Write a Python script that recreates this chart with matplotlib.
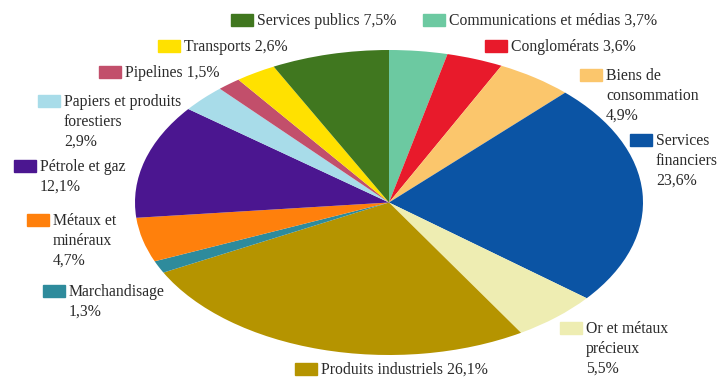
import matplotlib
matplotlib.use("Agg")
import matplotlib.pyplot as plt
from matplotlib.patches import Rectangle

# sectors, clockwise from 12 o'clock
sectors = ["Communications et médias", "Conglomérats", "Biens de\nconsommation",
           "Services\nfinanciers", "Or et métaux\nprécieux", "Produits industriels",
           "Marchandisage", "Métaux et\nminéraux", "Pétrole et gaz",
           "Papiers et produits\nforestiers", "Pipelines", "Transports",
           "Services publics"]
shares = [3.7, 3.6, 4.9, 23.6, 5.5, 26.1, 1.3, 4.7, 12.1, 2.9, 1.5, 2.6, 7.5]
colors = ["#6cc9a1", "#e81a2b", "#fbc66c", "#0b54a4", "#eeedb2", "#b59400",
          "#2e8b9c", "#ff800c", "#4b1690", "#a8dce9", "#c24f6b", "#ffe100",
          "#40771f"]
# value on the same line or below the name
same_line = [True, True, False, False, False, True, False, False, False,
             False, True, True, True]
# marker top-left corner, in pixels from the top-left of the figure
label_pos = [(423, 14), (485, 40), (580, 69), (630, 134), (560, 322),
             (295, 363), (43, 285), (27, 214), (14, 160), (38, 95),
             (99, 66), (158, 40), (231, 14)]

W, H = 721, 379
fig = plt.figure(figsize=(W / 100, H / 100), dpi=100)
ax = fig.add_axes([135 / W, (H - 355) / H, 508 / W, 305 / H])
ax.pie(shares, colors=colors, startangle=90, counterclock=False,
       wedgeprops=dict(linewidth=0))
ax.set_aspect("auto")
ax.set_xlim(-1, 1)
ax.set_ylim(-1, 1)
ax.axis("off")

for name, val, col, one, (px, py) in zip(sectors, shares, colors, same_line, label_pos):
    fig.patches.append(Rectangle((px / W, 1 - (py + 12) / H), 22 / W, 12 / H,
                                 transform=fig.transFigure, color=col))
    sep = " " if one else "\n"
    txt = name + sep + f"{val:.1f}".replace(".", ",") + "%"
    fig.text((px + 26) / W, 1 - (py - 1) / H, txt, ha="left", va="top",
             fontsize=11.3, family="Liberation Serif", color="#2a2a2a",
             linespacing=1.33)

fig.savefig("out.png", dpi=100, facecolor="white")
